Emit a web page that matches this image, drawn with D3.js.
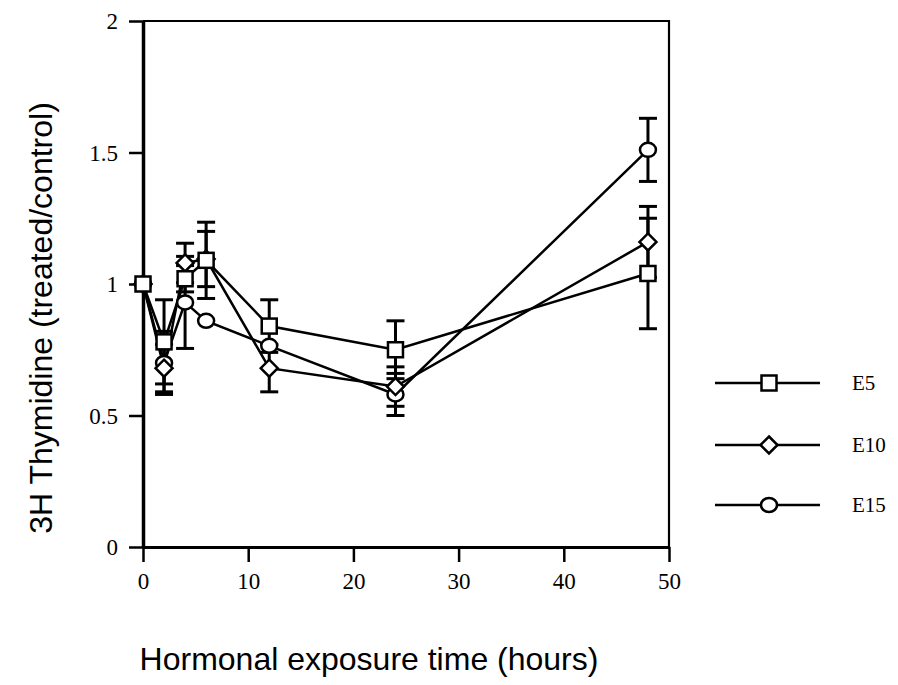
<!DOCTYPE html>
<html lang="en">

<head>
    <meta charset="UTF-8">
    <script src="https://d3js.org/d3.v7.min.js" charset="utf-8"></script>
    <title>Thymidine</title>
    <style>
        body { margin: 0; background: #fff; }
        .tick text { font-family: "Liberation Serif", "Times New Roman", serif; font-size: 23px; fill: #000; }
        .titre { font-family: "Liberation Sans", Arial, sans-serif; font-size: 32px; fill: #000; }
    </style>
</head>

<body>
    <div id="chart"></div>

    <script>

        const width = 898, height = 685;

        // donnees
        const hours = [0, 2, 4, 6, 12, 24, 48];
        const e5 = [1.0, 0.78, 1.02, 1.09, 0.84, 0.75, 1.04];
        const e5Err = [0, 0.16, 0.05, 0.145, 0.10, 0.11, 0.21];
        const e10 = [1.0, 0.68, 1.08, 1.095, 0.68, 0.61, 1.16];
        const e10Err = [0, 0.09, 0.075, 0.105, 0.09, 0.075, 0.135];
        const e15 = [1.0, 0.70, 0.93, 0.86, 0.765, 0.58, 1.51];
        const e15Err = [0, 0.12, 0.175, 0, 0, 0.08, 0.12];
        const xTicks = [0, 10, 20, 30, 40, 50];
        const yTicks = [0, 0.5, 1, 1.5, 2];
        const labels = ["E5", "E10", "E15"];
        const shapes = ["square", "diamond", "circle"];

        const x = d3.scaleLinear().domain([0, 50]).range([143, 669]);
        const y = d3.scaleLinear().domain([0, 2]).range([547, 21]);

        const svg = d3.select('#chart').append("svg")
            .attr("width", width)
            .attr("height", height);

        // cadre haut et droite
        svg.append("path")
            .attr("d", "M" + x(0) + "," + y(2) + "H" + x(50) + "V" + y(0))
            .attr("fill", "none")
            .attr("stroke", "#000")
            .attr("stroke-width", 2.2);

        const xAxis = svg.append("g")
            .attr("transform", "translate(0," + y(0) + ")")
            .call(d3.axisBottom(x).tickValues(xTicks).tickSize(15).tickSizeOuter(0).tickPadding(11));
        const yAxis = svg.append("g")
            .attr("transform", "translate(" + x(0) + ",0)")
            .call(d3.axisLeft(y).tickValues(yTicks).tickFormat(d3.format("")).tickSize(14).tickSizeOuter(0).tickPadding(11));

        xAxis.select(".domain").attr("stroke-width", 3);
        yAxis.select(".domain").attr("stroke-width", 3.5);
        svg.selectAll(".tick line").attr("stroke-width", 2.5);
        yAxis.selectAll(".tick text").attr("dy", "0.34em");

        // titres des axes
        svg.append("text")
            .attr("class", "titre")
            .attr("x", 369)
            .attr("y", 670)
            .attr("text-anchor", "middle")
            .text("Hormonal exposure time (hours)");
        svg.append("text")
            .attr("class", "titre")
            .attr("transform", "translate(52,318) rotate(-90)")
            .attr("text-anchor", "middle")
            .text("3H Thymidine (treated/control)");

        function marker(g, shape, cx, cy) {
            if (shape == "square") {
                g.append("rect").attr("x", cx - 7.5).attr("y", cy - 7.5)
                    .attr("width", 15).attr("height", 15);
            } else if (shape == "diamond") {
                g.append("path")
                    .attr("d", "M" + cx + "," + (cy - 8.5) + "L" + (cx + 8.5) + "," + cy +
                        "L" + cx + "," + (cy + 8.5) + "L" + (cx - 8.5) + "," + cy + "Z");
            } else {
                g.append("ellipse").attr("cx", cx).attr("cy", cy).attr("rx", 8).attr("ry", 7);
            }
        }

        const series = [
            { name: labels[0], shape: shapes[0], values: e5, err: e5Err },
            { name: labels[1], shape: shapes[1], values: e10, err: e10Err },
            { name: labels[2], shape: shapes[2], values: e15, err: e15Err }
        ];
        // E15 dessinee en premier, E5 au dessus
        const order = series.slice().reverse();

        const line = d3.line()
            .x(d => x(d[0]))
            .y(d => y(d[1]));

        const lines = svg.append("g");
        order.forEach(s => {
            lines.append("path")
                .datum(hours.map((h, i) => [h, s.values[i]]))
                .attr("d", line)
                .attr("fill", "none")
                .attr("stroke", "#000")
                .attr("stroke-width", 2.5);
        });

        const errs = svg.append("g").attr("stroke", "#000").attr("stroke-width", 3);
        order.forEach(s => {
            hours.forEach((h, i) => {
                if (s.err[i] == 0) return;
                const lo = y(s.values[i] - s.err[i]), hi = y(s.values[i] + s.err[i]);
                errs.append("line").attr("x1", x(h)).attr("x2", x(h)).attr("y1", lo).attr("y2", hi);
                errs.append("line").attr("x1", x(h) - 9).attr("x2", x(h) + 9).attr("y1", lo).attr("y2", lo);
                errs.append("line").attr("x1", x(h) - 9).attr("x2", x(h) + 9).attr("y1", hi).attr("y2", hi);
            });
        });

        const marks = svg.append("g")
            .attr("fill", "#fff")
            .attr("stroke", "#000")
            .attr("stroke-width", 2.5);
        order.forEach(s => {
            hours.forEach((h, i) => marker(marks, s.shape, x(h), y(s.values[i])));
        });

        // legende
        const legY = [383, 445, 505];
        const legend = svg.append("g");
        series.forEach((s, i) => {
            legend.append("line")
                .attr("x1", 715).attr("x2", 820)
                .attr("y1", legY[i]).attr("y2", legY[i])
                .attr("stroke", "#000").attr("stroke-width", 2.5);
            const g = legend.append("g").attr("fill", "#fff").attr("stroke", "#000").attr("stroke-width", 2.5);
            marker(g, s.shape, 769, legY[i]);
            legend.append("text")
                .attr("x", 852)
                .attr("y", legY[i])
                .attr("dy", "0.34em")
                .style("font-family", "'Liberation Serif', serif")
                .style("font-size", "21px")
                .text(s.name);
        });

    </script>
</body>

</html>
